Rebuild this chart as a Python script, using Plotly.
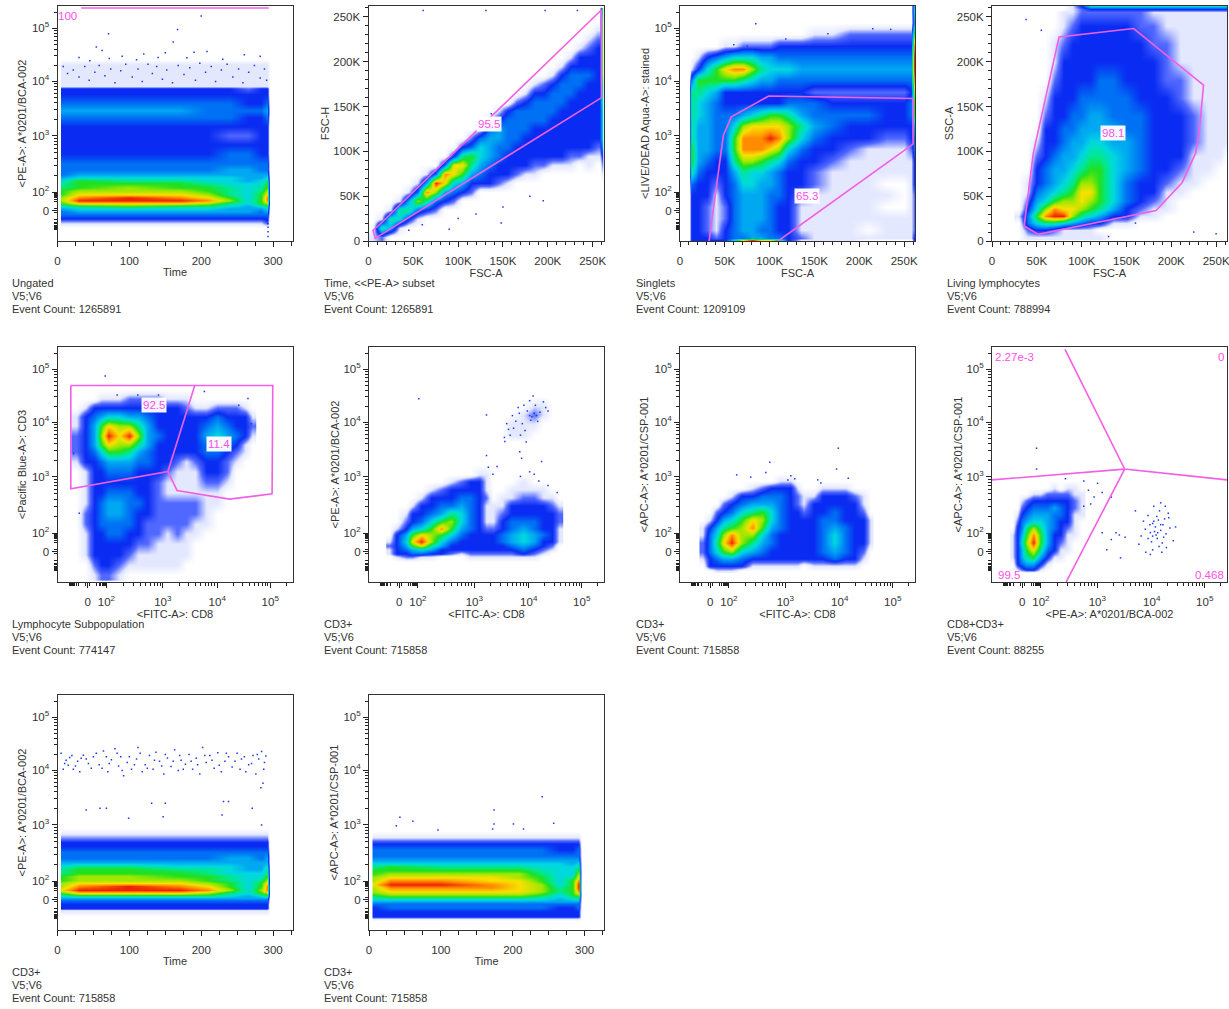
import numpy as np
import plotly.graph_objects as go

# ---------- Panel text ----------
TITLES = ["Ungated", "Time, <<PE-A> subset", "Singlets", "Living lymphocytes", "Lymphocyte Subpopulation",
          "CD3+", "CD3+", "CD8+CD3+", "CD3+", "CD3+"]
COUNTS = [1265891, 1265891, 1209109, 788994, 774147, 715858, 715858, 88255, 715858, 715858]
X_LABELS = ["Time", "FSC-A", "FSC-A", "FSC-A", "<FITC-A>: CD8", "<FITC-A>: CD8", "<FITC-A>: CD8",
            "<PE-A>: A*0201/BCA-002", "Time", "Time"]
Y_LABELS = ["<PE-A>: A*0201/BCA-002", "FSC-H", "<LIVE/DEAD Aqua-A>: stained", "SSC-A", "<Pacific Blue-A>: CD3",
            "<PE-A>: A*0201/BCA-002", "<APC-A>: A*0201/CSP-001", "<APC-A>: A*0201/CSP-001",
            "<PE-A>: A*0201/BCA-002", "<APC-A>: A*0201/CSP-001"]
X_KIND = ["time", "lin", "lin", "lin", "bi", "bi", "bi", "bi", "time", "time"]
Y_KIND = ["bi", "lin", "bi", "lin", "bi", "bi", "bi", "bi", "bi", "bi"]
PANEL_LEFT = [57.5, 368.5, 680, 992, 57.5, 369, 680, 992, 57.5, 369]
PANEL_TOP = [6, 6, 6, 6, 347, 347, 347, 347, 695, 695]
TEXT_LEFT = [10, 321.5, 633.7, 945.3, 10, 322, 633.7, 945.3, 10, 321.5]
Y_STANDOFF = [3, 1, 2.5, 0.5, 3, 1.5, 3, 1.5, 3, 2.5]

# Density colours, level 0 (no events) to level 12 (peak)
LEVEL_COLORS = ["#ffffff", "#e4e8ff", "#5068ff", "#0a2cf2", "#0070f4", "#00a8f2", "#00d8e0",
                "#00e890", "#20e020", "#a0e800", "#f8e000", "#ff8c00", "#f02000"]
GATE = "#f25fe6"
LABEL = "#ff4fe4"

# ---------- Density grids: levels ----------
T_COLS = [3, 5, 30, 100, 170, 210, 240, 265, 283, 292, 295]

P1_Y = [60, 75, 90, 100, 115, 130, 140, 150, 162, 175, 190, 205, 220, 235, 250, 262, 275, 290, 310, 340, 380, 420,
        460, 500, 540, 570, 600, 640, 664, 672, 700, 770, 790]
P1_Z = [
 [0,0,0,0,0,0,0,0,0],[1,1,1,1,1,1,1,1,2],[2,2,2,2,2,2,2,2,3],[3,3,3,3,3,3,3,3,3],[4,4,4,4,4,4,4,4,4],
 [4,5,5,5,5,5,5,4,5],[5,6,6,6,6,5,5,5,6],[6,7,8,7,7,6,5,6,7],[8,10,10,10,9,7,6,8,9],[9,12,12,12,11,9,6,8,11],
 [9,11,12,11,10,8,6,8,11],[8,10,10,10,9,7,6,8,10],[8,9,9,9,8,7,6,7,9],[7,8,9,8,8,7,6,7,8],[7,8,8,8,7,6,6,6,8],
 [6,8,7,7,6,6,5,6,7],[5,6,6,6,6,6,5,5,6],[4,5,5,5,5,5,5,5,5],[4,4,4,4,4,5,5,4,4],[4,4,4,4,4,4,4,4,4],
 [3,3,3,3,3,4,4,3,3],[3,3,3,3,3,3,3,3,3],[3,3,3,3,3,2,2,3,3],[3,3,3,3,3,3,3,3,3],[4,4,4,4,4,4,3,3,4],
 [5,5,5,5,4,4,4,4,5],[4,4,4,4,4,4,3,3,4],[3,3,3,3,3,3,3,3,3],[3,3,3,3,3,3,2,3,3],[1,1,1,1,1,1,1,1,1],
 [1,1,1,1,1,1,1,1,1],[1,1,1,1,1,1,1,1,1],[0,0,0,0,0,0,0,0,0]]

P9_Y = [60, 85, 96, 115, 130, 140, 150, 162, 175, 190, 205, 220, 235, 250, 265, 280, 295, 315, 340, 365, 385, 395,
        420, 445]
P9_Z = [
 [0,0,0,0,0,0,0,0,0],[1,1,1,1,1,1,1,1,1],[3,3,3,3,3,3,3,3,3],[3,3,3,3,3,3,3,3,3],[4,4,4,4,4,4,4,4,4],
 [5,5,5,5,5,5,5,5,5],[6,7,7,7,7,6,5,6,7],[8,10,10,10,9,7,6,8,9],[10,12,12,12,11,9,6,9,11],[9,11,12,11,10,8,6,8,11],
 [9,10,10,10,9,8,6,8,10],[8,9,9,9,8,7,6,7,9],[8,9,9,8,8,7,6,6,8],[7,8,8,8,7,6,6,6,7],[7,8,8,7,7,6,5,5,7],
 [6,7,7,6,6,6,5,5,6],[5,5,5,5,5,5,5,5,5],[4,4,4,4,4,5,5,4,5],[4,4,4,4,4,4,4,4,4],[3,3,3,3,3,3,3,3,3],
 [3,3,3,3,3,3,3,3,3],[2,2,2,2,2,2,2,2,2],[1,1,1,1,1,1,1,1,1],[0,0,0,0,0,0,0,0,0]]

P10_Y = [40, 50, 60, 80, 100, 115, 125, 135, 145, 155, 170, 185, 200, 215, 230, 245, 260, 275, 290, 305, 325, 350,
         375, 390, 405, 430]
P10_Z = [
 [0,0,0,0,0,0,0,0,0],[1,1,1,1,1,1,1,1,1],[3,3,3,3,3,3,3,3,3],[3,3,3,3,3,3,3,3,3],[3,4,4,4,4,4,3,3,4],
 [4,4,4,4,4,4,4,4,4],[5,5,5,5,5,5,5,5,5],[6,6,6,6,6,6,5,6,6],[7,8,8,8,8,7,6,7,8],[8,9,9,9,9,8,6,8,9],
 [9,10,10,10,10,9,7,8,11],[9,11,11,11,10,9,7,8,12],[10,12,12,11,10,9,6,8,12],[9,11,11,10,10,8,6,8,11],
 [9,10,10,10,9,8,6,7,10],[8,9,9,9,9,7,6,6,9],[8,8,8,8,8,7,6,6,8],[7,8,7,7,7,6,6,6,7],[6,6,6,6,6,6,6,5,6],
 [5,5,5,5,5,5,5,5,5],[4,4,4,4,4,4,4,4,4],[4,4,4,4,4,4,3,3,4],[3,3,3,3,3,3,3,3,3],[2,2,2,2,2,2,2,2,2],
 [1,1,1,1,1,1,1,1,1],[0,0,0,0,0,0,0,0,0]]

# Panel 2: FSC-A columns, each (first row index, levels upward); rows are FSC-H 5K, 15K, ... 255K
P2_X = [5, 15, 25, 35, 45, 55, 65, 75, 85, 95, 105, 115, 125, 135, 145, 155, 165, 175, 185, 195, 205, 215, 225, 235,
        245, 255, 258, 261]
P2_Y = [5, 15, 25, 35, 45, 55, 65, 75, 85, 95, 105, 115, 125, 135, 145, 155, 165, 175, 185, 195, 205, 215, 225, 235,
        245, 255]
P2_COLS = [
 (0,[1]), (0,[2,7,1]), (1,[5,7,1]), (1,[1,6,7,1]), (2,[3,7,5,1]), (2,[1,4,9,4,1]), (3,[3,7,11,5,1]), (3,[2,4,9,12,4]),
 (4,[3,5,10,11,4]), (4,[2,4,6,10,10,3]), (5,[3,5,8,10,7,3]), (5,[2,3,5,7,8,4,2]), (6,[3,4,5,6,6,4,1]),
 (6,[3,3,4,5,5,5,4,1]), (6,[2,3,3,4,4,5,5,3,1]), (6,[1,3,3,3,4,4,4,4,3]), (7,[2,3,3,3,4,4,4,4,2]),
 (7,[1,3,3,3,3,4,4,4,3,1]), (7,[1,2,3,3,3,3,4,4,4,3,1]), (8,[2,3,3,3,3,4,4,4,3,2]), (8,[1,3,3,3,3,3,4,4,4,3,1]),
 (8,[1,3,3,3,3,3,3,4,4,4,3,1]), (8,[1,2,3,3,3,3,3,3,4,4,4,3,1]), (9,[2,3,3,3,3,3,3,3,4,4,3,3,1]),
 (8,[1,1,3,3,3,3,3,3,3,3,4,3,3,2,1]), (9,[1,2,3,3,3,3,3,3,3,3,3,3,3,2,1]), (9,[1,2,3,3,3,3,3,3,3,3,3,3,3,2,1]),
 (7,[1,2,3,5,6,6,6,6,7,7,8,9,9,9,9,9,9,9,8])]

P3_X = [10, 12, 20, 30, 40, 50, 60, 70, 80, 90, 100, 110, 120, 135, 150, 170, 190, 210, 230, 250, 258, 261]
P3_Y = [3, 15, 50, 100, 150, 200, 250, 300, 350, 400, 450, 500, 550, 600, 650, 700, 750, 800, 850, 900, 950, 1000]
P3_Z = [
 [0,3,3,3,3,3,6,10,12,10,10,7,3,1,1,1,1,0,0,0,0,3],
 [0,3,3,3,2,3,4,4,5,5,4,4,3,2,1,1,1,1,1,1,1,3],
 [0,3,3,2,1,3,4,5,5,4,4,3,3,1,1,1,1,0,1,1,1,2],
 [0,3,3,2,1,2,4,5,5,5,4,3,3,1,1,1,1,1,1,1,1,2],
 [0,3,3,2,1,2,4,5,5,5,4,3,3,1,1,1,1,1,0,0,1,2],
 [0,3,3,3,1,3,4,5,5,5,4,4,3,2,1,1,1,1,1,0,1,2],
 [0,4,3,3,2,3,4,6,6,5,5,4,3,3,2,1,1,1,0,0,1,3],
 [0,7,4,3,3,3,5,7,6,6,5,4,3,3,2,1,1,1,1,1,1,3],
 [0,8,5,4,3,3,7,9,9,8,7,6,4,3,3,2,1,1,1,1,1,3],
 [0,8,5,5,4,4,8,11,11,11,10,9,6,4,3,3,2,1,1,1,2,4],
 [0,7,5,5,4,4,8,11,11,11,12,11,9,6,4,3,3,3,2,2,3,4],
 [0,7,5,5,4,4,6,9,10,10,10,10,9,7,5,4,3,3,3,3,3,5],
 [0,7,6,5,4,4,4,5,6,7,8,8,7,5,4,4,4,4,3,3,4,8],
 [0,7,6,5,4,3,3,3,3,3,3,3,4,4,4,3,3,3,3,3,4,8],
 [0,7,7,6,5,3,3,3,3,3,3,3,3,3,2,2,2,2,2,2,3,9],
 [0,4,8,8,8,8,8,7,6,5,5,4,4,4,4,4,4,4,4,4,4,11],
 [0,1,3,6,8,10,11,11,9,7,6,6,6,5,5,5,5,5,5,5,5,12],
 [0,0,1,3,4,5,6,6,6,5,5,4,4,4,4,4,4,4,4,4,4,12],
 [0,0,0,0,0,1,1,2,2,2,2,3,3,3,3,3,3,3,3,3,3,11],
 [0,0,0,0,0,0,0,0,0,0,0,0,0,0,1,1,2,2,2,2,2,8],
 [0,0,0,0,0,0,0,0,0,0,0,0,0,0,0,0,0,0,0,0,0,5],
 [0,0,0,0,0,0,0,0,0,0,0,0,0,0,0,0,0,0,0,0,0,6]]

P4_X = [30, 40, 50, 60, 70, 80, 90, 100, 110, 120, 135, 150, 165, 180, 195, 210, 225, 240, 255, 262]
P4_Y = [5, 12, 20, 28, 36, 45, 55, 65, 80, 95, 110, 125, 140, 160, 180, 200, 220, 240, 255, 259, 262]
P4_Z = [
 [0,1,1,1,1,1,1,1,1,1,0,0,0,0,0,0,0,0,0,0],
 [0,2,3,3,2,1,1,1,1,0,0,0,0,0,0,0,0,0,0,0],
 [0,4,6,7,7,6,5,4,3,3,1,1,0,0,0,0,0,0,0,0],
 [1,4,8,11,12,12,9,7,6,5,3,3,1,1,0,0,0,0,0,0],
 [0,3,6,9,11,10,10,9,8,7,5,3,2,1,1,0,0,0,0,0],
 [0,2,5,6,8,9,9,10,9,8,6,4,3,2,1,0,0,0,0,0],
 [0,1,4,5,6,7,8,10,10,8,6,4,3,3,1,1,0,0,0,0],
 [0,1,3,4,5,6,7,9,9,8,6,4,3,3,2,1,1,0,0,0],
 [0,0,3,4,5,5,6,7,8,8,6,5,4,3,3,2,1,1,0,0],
 [0,0,2,3,4,5,5,6,7,7,6,5,4,3,3,3,1,1,1,0],
 [0,0,1,3,3,4,5,5,6,6,5,5,4,3,3,3,2,1,1,1],
 [0,0,0,3,3,4,4,5,5,5,5,4,4,3,3,3,2,1,1,1],
 [0,0,0,2,3,3,4,4,5,5,4,4,4,3,3,3,2,1,1,1],
 [0,0,0,1,3,3,3,4,4,4,4,4,3,3,3,2,1,1,1,1],
 [0,0,0,0,2,3,3,3,3,4,4,3,3,3,2,2,1,1,1,1],
 [0,0,0,0,1,3,3,3,3,3,3,3,3,3,2,1,1,1,1,1],
 [0,0,0,0,1,2,3,3,3,3,3,3,3,2,2,1,1,1,1,1],
 [0,0,0,0,0,1,2,3,3,3,3,3,2,2,1,1,1,1,1,1],
 [0,0,0,0,0,1,1,2,2,2,2,2,2,1,1,1,1,1,1,1],
 [0,0,0,0,0,0,1,2,3,3,3,3,3,3,3,3,3,3,3,3],
 [0,0,0,0,0,0,1,3,6,6,6,6,6,6,6,6,6,6,6,6]]

P5_X = [80, 120, 160, 190, 220, 267, 314, 350, 390, 440, 480, 520, 560, 600, 650, 695, 740, 780, 820, 850]
P5_Y = [30, 75, 120, 165, 210, 255, 300, 345, 390, 435, 480, 525, 570, 600, 638, 680, 720, 760, 800, 840]
P5_Z = [
 [0,0,1,2,2,1,0,0,0,0,0,0,0,0,0,0,0,0,0,0],
 [0,0,2,3,3,2,1,1,1,1,1,1,0,0,0,0,0,0,0,0],
 [0,1,3,3,3,3,2,1,1,1,1,1,1,0,0,0,0,0,0,0],
 [0,1,3,3,3,3,3,2,2,1,1,1,1,0,0,0,0,0,0,0],
 [0,1,3,3,4,4,3,3,2,2,1,2,1,1,0,0,0,0,0,0],
 [0,2,3,4,4,4,4,3,2,2,2,2,2,1,1,0,0,0,0,0],
 [0,2,3,4,5,5,4,3,3,2,2,2,2,2,1,0,0,0,0,0],
 [0,1,3,4,5,5,4,4,3,2,2,2,2,2,1,1,0,0,0,0],
 [0,1,3,3,4,4,4,3,3,2,1,1,1,1,1,1,0,0,0,0],
 [0,1,3,3,3,3,3,3,3,2,1,1,1,1,2,2,1,0,0,0],
 [0,1,3,3,4,4,4,3,3,3,2,1,1,1,3,3,2,0,0,0],
 [1,3,3,4,5,5,5,4,4,3,3,2,1,2,3,3,2,1,0,0],
 [2,3,4,6,8,8,7,5,4,3,3,3,3,3,4,4,3,2,1,0],
 [2,3,5,8,10,9,9,7,5,3,3,3,3,3,4,5,4,3,1,0],
 [2,3,5,9,12,10,12,9,5,4,3,3,3,3,5,6,5,4,3,1],
 [1,3,5,8,10,9,9,7,5,3,3,3,3,3,4,5,4,3,3,2],
 [1,3,4,5,6,6,5,5,4,3,3,3,3,3,3,4,3,3,3,1],
 [0,1,3,3,3,3,3,3,3,3,3,3,2,1,1,2,2,2,1,0],
 [0,0,0,1,1,1,2,2,2,2,1,1,1,0,0,0,0,0,0,0],
 [0,0,0,0,0,0,0,0,0,0,0,0,0,0,0,0,0,0,0,0]]

P6_X = [90, 120, 160, 190, 228, 270, 316, 360, 400, 440, 480, 510, 540, 580, 620, 672, 720, 760, 800, 830]
P6_Y = [90, 110, 125, 140, 160, 177, 205, 235, 265, 300, 335, 370, 405, 440, 470, 510, 610, 640, 690, 730, 770, 810]
P6_Z = [
 [0,0,0,0,0,0,0,0,0,0,0,0,0,0,0,0,0,0,0,0],
 [0,1,2,2,1,1,0,0,0,1,1,1,1,1,1,1,1,0,0,0],
 [1,3,3,4,4,3,3,2,1,2,2,2,2,2,2,3,2,1,0,0],
 [1,3,4,5,6,5,3,3,3,3,3,3,3,3,3,4,3,2,1,0],
 [2,3,5,8,10,7,5,3,3,3,3,3,3,3,4,5,4,3,2,0],
 [1,3,6,10,12,9,6,4,3,3,3,3,3,4,5,6,5,3,3,1],
 [0,3,5,8,10,9,8,6,4,3,3,3,3,4,5,6,5,4,3,1],
 [0,1,3,5,6,8,11,8,5,4,3,2,2,3,4,5,4,3,3,1],
 [0,0,2,3,4,6,8,9,6,4,3,1,1,3,4,4,4,3,3,2],
 [0,0,1,3,3,4,5,7,6,4,3,1,1,2,3,3,3,3,3,2],
 [0,0,0,1,3,3,4,4,5,4,3,1,1,1,3,3,3,3,2,1],
 [0,0,0,0,1,3,3,3,4,4,3,2,0,1,1,2,2,1,1,0],
 [0,0,0,0,0,1,2,3,3,3,3,1,0,0,1,1,1,1,0,0],
 [0,0,0,0,0,0,0,1,2,3,3,1,0,0,0,1,0,0,0,0],
 [0,0,0,0,0,0,0,0,0,0,1,1,0,0,0,0,0,0,0,0],
 [0,0,0,0,0,0,0,0,0,0,0,0,0,0,0,0,0,0,0,0],
 [0,0,0,0,0,0,0,0,0,0,0,0,0,0,0,0,0,0,0,0],
 [0,0,0,0,0,0,0,0,0,0,0,0,0,0,1,1,0,0,0,0],
 [0,0,0,0,0,0,0,0,0,0,0,0,0,0,1,1,1,0,0,0],
 [0,0,0,0,0,0,0,0,0,0,0,0,0,0,0,1,2,1,0,0],
 [0,0,0,0,0,0,0,0,0,0,0,0,0,0,0,0,1,1,0,0],
 [0,0,0,0,0,0,0,0,0,0,0,0,0,0,0,0,0,0,0,0]]

P7_X = [100, 130, 160, 190, 224, 270, 318, 360, 400, 440, 480, 510, 540, 580, 620, 675, 720, 760, 800, 830]
P7_Y = [50, 70, 100, 130, 170, 205, 235, 270, 305, 340, 375, 410, 440, 470]
P7_Z = [
 [0,0,1,1,1,0,0,0,0,0,0,0,0,0,0,0,0,0,0,0],
 [0,3,3,3,3,3,1,1,1,1,1,1,0,1,1,1,1,1,0,0],
 [1,3,4,5,5,4,3,3,3,3,3,3,3,3,3,4,3,3,1,0],
 [2,4,6,8,9,6,5,4,3,3,3,3,3,3,4,5,4,3,2,0],
 [2,4,7,10,12,9,7,5,4,3,3,3,3,3,4,6,4,3,3,1],
 [1,4,6,9,11,9,9,6,4,3,3,3,3,3,4,6,4,3,3,1],
 [1,3,5,7,8,9,11,8,5,4,3,3,3,3,4,5,4,3,3,1],
 [0,1,3,5,6,8,10,9,6,4,3,3,3,3,4,4,3,3,3,1],
 [0,0,2,3,4,6,7,8,6,4,3,3,2,3,3,4,3,3,2,0],
 [0,0,0,2,3,4,5,5,5,4,3,2,1,3,3,3,3,3,1,0],
 [0,0,0,0,1,3,3,4,4,4,3,2,1,1,3,3,3,2,1,0],
 [0,0,0,0,0,0,1,2,3,3,3,1,0,0,1,1,1,0,0,0],
 [0,0,0,0,0,0,0,0,0,1,1,0,0,0,0,0,0,0,0,0],
 [0,0,0,0,0,0,0,0,0,0,0,0,0,0,0,0,0,0,0,0]]

P8_X = [90, 110, 130, 150, 180, 210, 240, 270, 300, 330, 360, 390]
P8_Y = [40, 55, 80, 110, 140, 173, 205, 235, 265, 295, 325, 355, 385, 410, 440]
P8_Z = [
 [0,0,0,0,0,0,0,0,0,0,0,0],
 [0,1,2,3,3,1,0,0,0,0,0,0],
 [0,3,4,5,5,3,1,0,0,0,0,0],
 [1,3,5,7,8,5,3,1,1,0,0,0],
 [1,3,5,8,10,7,4,3,1,1,0,0],
 [1,3,6,9,12,8,5,3,2,1,0,0],
 [1,3,5,8,11,8,5,3,3,1,1,0],
 [0,3,4,7,9,7,5,4,3,2,1,0],
 [0,2,4,5,6,6,5,4,3,3,1,0],
 [0,1,3,4,5,5,5,4,4,3,1,1],
 [0,0,2,3,4,4,4,5,4,3,2,1],
 [0,0,1,2,3,3,3,3,3,3,2,1],
 [0,0,0,0,1,1,2,2,2,2,1,1],
 [0,0,0,0,0,0,0,1,0,1,1,0],
 [0,0,0,0,0,0,0,0,0,0,0,0]]

# ---------- Gates (x, y) ----------
P1_GATE = [(33, 1015), (294, 1015)]
P2_GATE = [(260e3, 258e3), (260e3, 160e3), (7.5e3, 3e3), (5e3, 12e3), (11e3, 17e3), (260e3, 258e3)]
P3_GATE = [(32.4e3, 0), (48.4e3, 461), (57.3e3, 541), (99e3, 632), (260e3, 621), (260e3, 422), (109.5e3, 0)]
P4_GATE = [(35.9e3, 16.7e3), (51.6e3, 7.4e3), (183e3, 34e3), (212e3, 65e3), (227e3, 97.7e3), (231e3, 120e3),
           (236e3, 174e3), (158e3, 237e3), (74.8e3, 227.6e3), (46e3, 97.7e3), (35.9e3, 16.7e3)]
P5_GATE_A = [(58, 856), (598, 856), (481, 481), (58, 406), (58, 856)]
P5_GATE_B = [(598, 856), (938, 856), (935, 384), (749, 361), (521, 399), (481, 481)]
P8_GATE_A = [(318, 1014), (578, 492), (1024, 445)]
P8_GATE_B = [(0, 445), (578, 492), (323, 0)]
GATES = {1: [P1_GATE], 2: [P2_GATE], 3: [P3_GATE], 4: [P4_GATE], 5: [P5_GATE_A, P5_GATE_B], 8: [P8_GATE_A, P8_GATE_B]}

# Gate percentages: panel, x, y, text, boxed
GATE_LABELS = [
 (1, 14, 982, "100", False), (2, 134e3, 131e3, "95.5", True), (3, 141.5e3, 196, "65.3", True),
 (4, 134.6e3, 121e3, "98.1", True), (5, 419, 770, "92.5", True), (5, 704, 603, "11.4", True),
 (8, 99, 982, "2.27e-3", False), (8, 996, 982, "0", False), (8, 72, 29, "99.5", False), (8, 946, 29, "0.468", False)]

# ---------- Sparse events ----------
DOTS = {
 1: [(200,980),(167,922),(71,903),(161,867),(54,845),(62,830),(120,815),(150,820),(190,822),(208,826),(260,812),
     (90,805),(30,800),(282,805),(140,800),(72,795),(110,790),(180,798),(230,792),(45,785),(293,60),(293,40),(293,20),(293,75),
     (8,760),(14,730),(22,745),(30,715),(38,760),(44,700),(52,735),(58,765),(66,720),(74,750),(80,690),(88,742),(95,770),
     (104,715),(112,750),(118,695),(126,770),(132,730),(138,760),(146,705),(152,745),(160,690),(168,765),(176,725),
     (184,755),(192,700),(198,775),(206,735),(214,760),(220,695),(228,745),(236,770),(244,715),(252,750),(258,690),
     (266,735),(274,765),(282,710),(288,750),(291,700)],
 2: [(61e3,257e3),(131e3,257e3),(197e3,257e3),(233e3,257e3),(137e3,142e3),(95e3,97e3),(148e3,20e3),(90e3,13e3),
     (60e3,18e3),(45e3,12e3),(120e3,30e3),(150e3,38e3),(195e3,45e3),(180e3,50e3),(100e3,25e3)],
 3: [(84.5e3,947),(75e3,850),(60e3,855),(118e3,880),(165e3,903),(215e3,925),(235e3,922)],
 4: [(38e3,247e3),(55e3,235e3),(225e3,10e3),(250e3,8e3),(130e3,5e3),(160e3,20e3)],
 5: [(208,898),(350,815),(260,815),(440,815),(640,830),(830,800),(845,690),(790,770),(70,560),(95,300)],
 6: [(217,798),(512,728),(512,551),(558,503),(592,612),(657,568),(665,539),(752,525),(600,690),(615,640),(625,725),
     (640,700),(650,760),(660,640),(668,690),(685,610),(690,745),(700,790),(705,705),(715,810),(725,770),(735,700),
     (745,740),(760,785),(770,760),(780,745),(655,735),(675,770),(608,665),(630,670),(720,735),(700,725),(710,720),
     (730,725),(590,630),(680,660),(700,480),(720,470),(740,440),(660,460),(780,420),(820,390),(540,470),(520,500)],
 7: [(247,467),(308,457),(374,477),(391,522),(483,463),(690,583),(682,492),(733,452),(614,431),(500,450),(470,445),(600,445)],
 8: [(194,583),(194,492),(320,450),(400,440),(420,400),(460,430),(445,370),(480,390),(520,370),(400,330),(430,340),
     (480,215),(540,215),(520,185),(555,205),(580,195),(500,140),(560,105),
     (700,255),(712,240),(725,270),(735,225),(690,215),(745,250),(758,210),(770,280),(680,290),(730,310),(705,330),
     (755,330),(775,235),(720,190),(742,170),(695,175),(668,230),(650,200),(700,140),(740,130),(760,150),(670,130),
     (640,165),(790,180),(800,240),(768,300),(715,205),(708,220),(722,215),(735,250),(748,195),(688,250),(660,265),
     (625,310),(735,345),(705,265),(718,285),(700,200),(728,155),(690,120),(752,275),(680,190)],
 9: [(5,770),(12,740),(20,760),(28,735),(36,762),(8,700),(15,718),(22,700),(31,690),(40,745),(47,705),(54,770),(58,720),
     (64,780),(68,755),(70,690),(75,742),(80,790),(85,715),(88,755),(92,672),(97,730),(103,700),(110,745),(112,795),
     (118,690),(122,720),(128,760),(133,700),(137,775),(142,735),(148,680),(153,750),(158,712),(163,785),(168,695),
     (172,740),(178,722),(183,765),(188,700),(193,748),(198,680),(202,795),(207,730),(212,760),(218,705),(223,772),
     (228,690),(233,735),(238,755),(243,710),(250,770),(256,745),(262,690),(266,720),(272,760),(276,680),(280,745),
     (284,778),(287,700),(290,758),(286,640),(283,620),(40,523),(59,530),(68,530),(131,552),(150,552),(147,494),(99,487),
     (231,560),(238,560),(229,501),(271,531),(284,458),
     (10,725),(17,752),(25,715),(33,748),(43,725),(50,755),(62,705),(72,725),(83,770),(90,695),(100,755),(107,720),
     (115,770),(125,705),(135,740),(145,715),(150,765),(161,735),(170,760),(175,700),(186,735),(195,720),(205,760),
     (215,740),(225,718),(235,770),(247,735),(254,700),(260,755),(270,725),(278,765),(288,730)],
 10: [(241,581),(174,523),(43,491),(61,474),(38,454),(174,462),(201,462),(257,465),(96,436),(172,440),(215,440)],
}

# ---------- Axis helpers ----------
DEC_CH = {0: 132, 100: 213, 1000: 459, 10000: 696, 100000: 927}
BI_VALS = [DEC_CH[k] for k in (0, 100, 1000, 10000, 100000)]
BI_TEXT = ["0", "10<sup>2</sup>", "10<sup>3</sup>", "10<sup>4</sup>", "10<sup>5</sup>"]
LIN_VALS = [0, 50000, 100000, 150000, 200000, 250000]
LIN_TEXT = ["0", "50K", "100K", "150K", "200K", "250K"]
TIME_VALS = [0, 100, 200, 300]
TIME_TEXT = ["0", "100", "200", "300"]
MULT = [2, 3, 4, 5, 6, 7, 8, 9]


def bi_minor():
    out = []
    for a, b in ((100, 1000), (1000, 10000), (10000, 100000)):
        ca, cb = DEC_CH[a], DEC_CH[b]
        out += [ca + np.log10(m) * (cb - ca) for m in MULT]
    out += [927 + np.log10(2) * 231]
    low = [213 + np.log10(m / 10) * 60 for m in MULT] + [140]
    out += low + [132 - (v - 132) for v in low] + [51]
    return [float(v) for v in out]


def axis_cfg(kind, label, standoff, is_x):
    if kind == "bi":
        cfg = dict(range=[0, 1024], tickvals=BI_VALS, ticktext=BI_TEXT,
                   minor=dict(tickmode="array", tickvals=bi_minor(), ticks="outside", ticklen=3, tickcolor="#222"))
    elif kind == "lin":
        cfg = dict(range=[0, 262144], tickvals=LIN_VALS, ticktext=LIN_TEXT,
                   minor=dict(tickmode="array", tickvals=[i * 10000 for i in range(27) if i % 5], ticks="outside",
                              ticklen=3, tickcolor="#222"))
    else:
        cfg = dict(range=[0, 327], tickvals=TIME_VALS, ticktext=TIME_TEXT,
                   minor=dict(tickmode="array", tickvals=[25, 50, 75, 125, 150, 175, 225, 250, 275, 325],
                              ticks="outside", ticklen=4, tickcolor="#222"))
    cfg.update(tickmode="array", ticks="outside", ticklen=5, tickcolor="#222", tickwidth=1,
               showgrid=False, zeroline=False, showline=True, linecolor="#333", linewidth=1, mirror=True,
               tickfont=dict(family="Liberation Sans", size=11.5, color="#333"), ticklabeloverflow="allow",
               title=dict(text=label, standoff=standoff, font=dict(family="Liberation Sans", size=11, color="#333")),
               fixedrange=True)
    if is_x:
        cfg["ticklabelstandoff"] = 4
    return cfg


def expand_cols(cols, n_rows):
    z = np.zeros((n_rows, len(cols)))
    for j, (start, lv) in enumerate(cols):
        z[start:start + len(lv), j] = lv
    return z


def pad_time(z):
    z = np.array(z, dtype=float)
    pad = np.zeros((z.shape[0], 1))
    return np.hstack([pad, z, pad])


GRIDS = {
 1: (T_COLS, P1_Y, pad_time(P1_Z)),
 2: ([v * 1000 for v in P2_X], [v * 1000 for v in P2_Y], expand_cols(P2_COLS, len(P2_Y))),
 3: ([v * 1000 for v in P3_X], P3_Y, np.array(P3_Z)),
 4: ([v * 1000 for v in P4_X], [v * 1000 for v in P4_Y], np.array(P4_Z)),
 5: (P5_X, P5_Y, np.array(P5_Z)),
 6: (P6_X, P6_Y, np.array(P6_Z)),
 7: (P7_X, P7_Y, np.array(P7_Z)),
 8: (P8_X, P8_Y, np.array(P8_Z)),
 9: (T_COLS, P9_Y, pad_time(P9_Z)),
 10: (T_COLS, P10_Y, pad_time(P10_Z)),
}

W, H, SIZE = 1229, 1009, 235
scale = [[i / 12, c] for i, c in enumerate(LEVEL_COLORS)]
fig = go.Figure()
layout = {}
annotations = []

for n in range(1, 11):
    i = n - 1
    L, T = PANEL_LEFT[i], PANEL_TOP[i]
    xs, ys, z = GRIDS[n]
    xa, ya = f"x{n}", f"y{n}"
    fig.add_trace(go.Heatmap(x=xs, y=ys, z=z.tolist(), zmin=0, zmax=12, colorscale=scale, zsmooth="best",
                             showscale=False, hoverinfo="skip", xaxis=xa, yaxis=ya))
    if n in DOTS:
        fig.add_trace(go.Scatter(x=[p[0] for p in DOTS[n]], y=[p[1] for p in DOTS[n]], mode="markers",
                                 marker=dict(size=1.5, color="#1838f0", symbol="square"), hoverinfo="skip",
                                 showlegend=False, xaxis=xa, yaxis=ya))
    for g in GATES.get(n, []):
        fig.add_trace(go.Scatter(x=[p[0] for p in g], y=[p[1] for p in g], mode="lines",
                                 line=dict(color=GATE, width=1.6), hoverinfo="skip", showlegend=False,
                                 xaxis=xa, yaxis=ya))
    xc = axis_cfg(X_KIND[i], X_LABELS[i], 2, True)
    yc = axis_cfg(Y_KIND[i], Y_LABELS[i], Y_STANDOFF[i], False)
    xc.update(domain=[L / W, (L + SIZE) / W], anchor=ya)
    yc.update(domain=[1 - (T + SIZE) / H, 1 - T / H], anchor=xa)
    layout[f"xaxis{n}"] = xc
    layout[f"yaxis{n}"] = yc
    for k, line in enumerate([TITLES[i], "V5;V6", f"Event Count: {COUNTS[i]}"]):
        annotations.append(dict(text=line.replace("<", "&lt;"), xref="paper", yref="paper", x=TEXT_LEFT[i] / W,
                                y=1 - (T + 277 + 13 * k) / H, xanchor="left", yanchor="middle", showarrow=False,
                                font=dict(family="Liberation Sans", size=11, color="#333")))

for p, x, y, txt, boxed in GATE_LABELS:
    annotations.append(dict(text=txt, x=x, y=y, xref=f"x{p}", yref=f"y{p}", showarrow=False,
                            xanchor="center", yanchor="middle",
                            font=dict(family="Liberation Sans", size=11.5, color=LABEL),
                            bgcolor="rgba(255,255,255,0.95)" if boxed else None, borderpad=1))

fig.update_layout(width=W, height=H, margin=dict(l=0, r=0, t=0, b=0, autoexpand=False), paper_bgcolor="white",
                  plot_bgcolor="white", showlegend=False, annotations=annotations, **layout)
fig.write_html("out.html", config=dict(displayModeBar=False),
               post_script="document.body.style.margin='0';document.body.style.overflow='hidden';")
